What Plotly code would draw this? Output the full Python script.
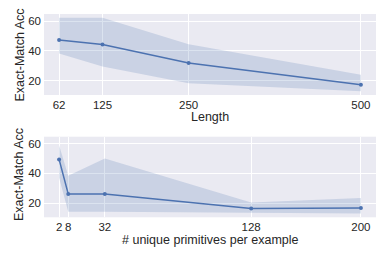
import plotly.graph_objects as go
from plotly.subplots import make_subplots

# Top panel: accuracy vs. length
length = [62, 125, 250, 500]
length_mean = [47.3, 44.2, 31.8, 17.3]
length_upper = [62.2, 62.2, 44.4, 24.0]
length_lower = [38.2, 29.5, 18.2, 12.9]

# Bottom panel: accuracy vs. number of unique primitives
prims = [2, 8, 32, 128, 200]
prims_mean = [49.4, 26.1, 26.1, 16.3, 16.7]
prims_upper = [59.0, 38.4, 50.0, 20.4, 23.4]
prims_lower = [37.0, 14.1, 14.1, 13.6, 12.9]

ytick_vals = [20, 40, 60]
ylabel = "Exact-Match Acc"
xlabel_top = "Length"
xlabel_bottom = "# unique primitives per example"

LINE = "#4C72B0"
BAND = "rgba(76,114,176,0.2)"
BG = "#EAEAF2"
FONT = "Liberation Sans, Arial, sans-serif"
TXT = "#262626"

# page body has an 8px offset; compensate so plot areas land where the reference has them
OFF = 8
W, H = 390, 260
L, R = 44 - OFF, 14 + OFF
PW = W - L - R

fig = make_subplots(rows=2, cols=1)

def add_panel(x, mean, up, lo, row):
    fig.add_trace(go.Scatter(x=x, y=up, mode="lines", line=dict(width=0, color=LINE),
                             showlegend=False, hoverinfo="skip"), row=row, col=1)
    fig.add_trace(go.Scatter(x=x, y=lo, mode="lines", line=dict(width=0, color=LINE),
                             fill="tonexty", fillcolor=BAND, showlegend=False,
                             hoverinfo="skip"), row=row, col=1)
    fig.add_trace(go.Scatter(x=x, y=mean, mode="lines+markers",
                             line=dict(width=1.5, color=LINE),
                             marker=dict(size=4, color=LINE),
                             showlegend=False), row=row, col=1)

add_panel(length, length_mean, length_upper, length_lower, 1)
add_panel(prims, prims_mean, prims_upper, prims_lower, 2)

axis_common = dict(showgrid=True, gridcolor="white", gridwidth=1, zeroline=False,
                   showline=False, ticks="", automargin=False,
                   tickfont=dict(size=11.5, color=TXT, family=FONT))

fig.update_xaxes(**axis_common, ticklabelstandoff=1)
fig.update_yaxes(**axis_common, ticklabelstandoff=2)

def dom(top, bottom):
    return [1 - (bottom - OFF) / H, 1 - (top - OFF) / H]

def py(page_y):
    return 1 - (page_y - OFF) / H

def px(page_x):
    return (page_x - OFF - L) / PW

fig.update_xaxes(row=1, col=1, domain=[0, 1], range=[40.1, 521.9], tickvals=length)
fig.update_xaxes(row=2, col=1, domain=[0, 1], range=[-7.9, 209.9], tickvals=prims)
fig.update_yaxes(row=1, col=1, domain=dom(14, 95), range=[10.4, 64.7], tickvals=ytick_vals)
fig.update_yaxes(row=2, col=1, domain=dom(136.7, 217.3), range=[10.4, 64.7], tickvals=ytick_vals)

title_font = dict(size=12.5, color=TXT, family=FONT)
ann = dict(xref="paper", yref="paper", showarrow=False, font=title_font,
           xanchor="center", yanchor="middle")
fig.add_annotation(text=xlabel_top, x=0.5, y=py(116.5), **ann)
fig.add_annotation(text=xlabel_bottom, x=0.5, y=py(240), **ann)
fig.add_annotation(text=ylabel, x=px(19), y=py(55.5), textangle=-90, **ann)
fig.add_annotation(text=ylabel, x=px(19), y=py(175), textangle=-90, **ann)

fig.update_layout(width=W, height=H, margin=dict(l=L, r=R, t=0, b=0),
                  plot_bgcolor=BG, paper_bgcolor="white",
                  font=dict(family=FONT, color=TXT))

fig.write_html("out.html")
